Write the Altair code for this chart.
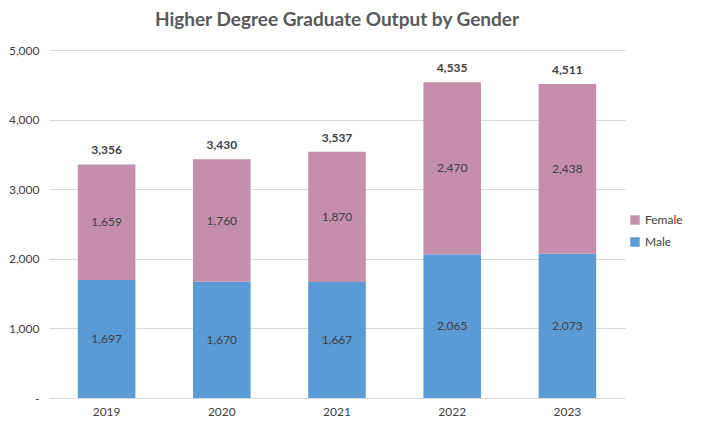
import altair as alt
import pandas as pd

years = ["2019", "2020", "2021", "2022", "2023"]
male = [1697, 1670, 1667, 2065, 2073]
female = [1659, 1760, 1870, 2470, 2438]
totals = [3356, 3430, 3537, 4535, 4511]

rows = []
for y, m, f in zip(years, male, female):
    rows.append({"Year": y, "Gender": "Male", "Value": m, "ord": 0, "mid": m / 2})
    rows.append({"Year": y, "Gender": "Female", "Value": f, "ord": 1, "mid": m + f / 2})
df = pd.DataFrame(rows)
tdf = pd.DataFrame({"Year": years, "Total": totals})

FONT = "Lato"
xenc = alt.X("Year:N", title=None, scale=alt.Scale(paddingInner=0.5, paddingOuter=0.25),
             axis=alt.Axis(labelAngle=0, ticks=False, domainColor="#d9d9d9",
                           labelColor="#404040", labelFontSize=12, labelFont=FONT, labelPadding=8))

bars = alt.Chart(df).mark_bar().encode(
    x=xenc,
    y=alt.Y("Value:Q", stack="zero", title=None,
            scale=alt.Scale(domain=[0, 5000]),
            axis=alt.Axis(values=[0, 1000, 2000, 3000, 4000, 5000], domain=False, ticks=False,
                          gridColor="#d9d9d9", labelColor="#404040", labelFontSize=12,
                          labelFont=FONT, labelPadding=10,
                          labelExpr="datum.value == 0 ? '-' : format(datum.value, ',')")),
    color=alt.Color("Gender:N",
                    scale=alt.Scale(domain=["Female", "Male"], range=["#C48FAB", "#5B9BD5"]),
                    legend=alt.Legend(title=None, orient="none", legendX=580, legendY=164,
                                      symbolType="square", symbolSize=90, labelFontSize=12,
                                      labelFont=FONT, labelColor="#404040", rowPadding=10)),
    order=alt.Order("ord:Q"),
)

seglabels = alt.Chart(df).mark_text(fontSize=12, font=FONT, color="#404040").encode(
    x="Year:N", y="mid:Q", text=alt.Text("Value:Q", format=","))

totlabels = alt.Chart(tdf).mark_text(fontSize=12, font=FONT, fontWeight="bold",
                                     color="#404040", dy=-14).encode(
    x="Year:N", y="Total:Q", text=alt.Text("Total:Q", format=","))

chart = (bars + seglabels + totlabels).properties(
    width=576, height=348,
    title=alt.TitleParams("Higher Degree Graduate Output by Gender", fontSize=19,
                          font=FONT, fontWeight="bold", color="#595959", offset=14),
    padding={"left": 0, "top": 3, "right": 5, "bottom": 5},
).configure_view(stroke=None)

chart.save("out.html", embed_options={"renderer": "svg", "actions": False})
